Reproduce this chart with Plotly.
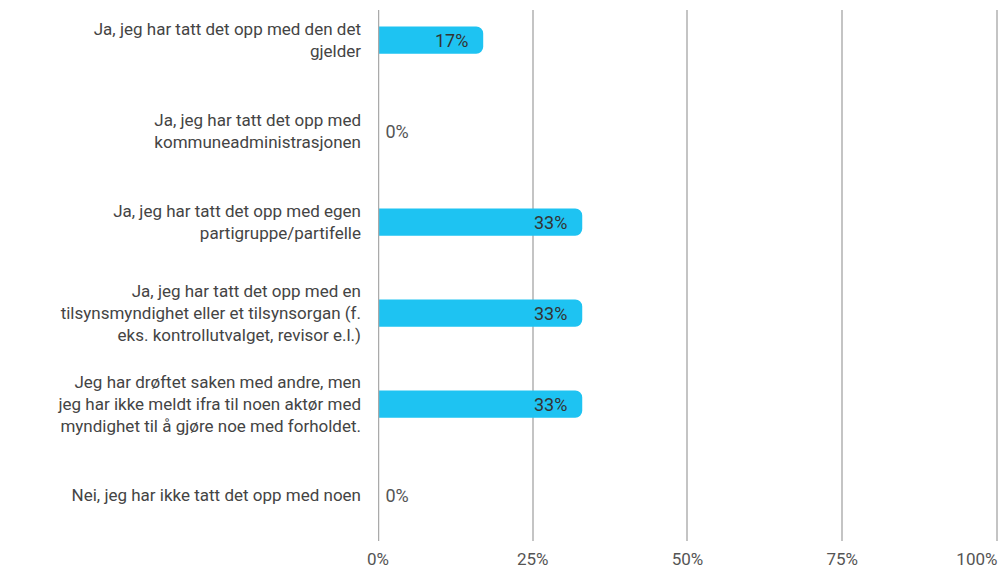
import plotly.graph_objects as go

categories = [
    "Ja, jeg har tatt det opp med den det<br>gjelder",
    "Ja, jeg har tatt det opp med<br>kommuneadministrasjonen",
    "Ja, jeg har tatt det opp med egen<br>partigruppe/partifelle",
    "Ja, jeg har tatt det opp med en<br>tilsynsmyndighet eller et tilsynsorgan (f.<br>eks. kontrollutvalget, revisor e.l.)",
    "Jeg har drøftet saken med andre, men<br>jeg har ikke meldt ifra til noen aktør med<br>myndighet til å gjøre noe med forholdet.",
    "Nei, jeg har ikke tatt det opp med noen",
]
values = [17, 0, 33, 33, 33, 0]
tick_vals = [0, 25, 50, 75, 100]
tick_text = ["0%", "25%", "50%", "75%", "100%"]

NB = "\u00a0"
texts = [(f"{v}%" + NB * 2) if v > 0 else (NB * 1 + f"{v}%") for v in values]
positions = ["inside" if v > 0 else "outside" for v in values]

fig = go.Figure(go.Bar(
    x=values,
    y=categories,
    orientation="h",
    marker=dict(color="#1EC3F2", line=dict(width=0), cornerradius=7),
    width=0.3,
    text=texts,
    textposition=positions,
    insidetextanchor="end",
    textangle=0,
    insidetextfont=dict(family="Roboto", size=18, color="#333333"),
    outsidetextfont=dict(family="Roboto", size=18, color="#555555"),
    cliponaxis=False,
))
# invisible companion trace so the overlay axis is rendered
fig.add_trace(go.Scatter(
    x=values, y=categories, xaxis="x2", mode="markers",
    marker=dict(opacity=0), hoverinfo="skip", showlegend=False,
))

fig.update_layout(
    width=1003, height=568,
    margin=dict(l=378, r=3, t=10, b=27, autoexpand=False),
    paper_bgcolor="white", plot_bgcolor="white",
    showlegend=False,
    font=dict(family="Roboto", size=17, color="#444444"),
)
x_range = [0, 100.5]
tickfont = dict(family="Roboto", size=17, color="#555555")
# main axis: gridlines for all ticks, labels for all but the last
fig.update_xaxes(
    range=x_range,
    tickvals=tick_vals, ticktext=tick_text[:-1] + [""],
    showgrid=True, gridcolor="#C4C4C4", gridwidth=1.5,
    zeroline=False, showline=False,
    ticks="", ticklabelstandoff=6,
    tickfont=tickfont,
    automargin=False,
    fixedrange=True,
)
# overlay axis carrying the last label, shifted so it stays within the page
fig.update_layout(xaxis2=dict(
    overlaying="x", anchor="y", side="bottom",
    range=x_range,
    tickvals=tick_vals[-1:], ticktext=tick_text[-1:],
    showgrid=False, zeroline=False, showline=False,
    ticks="", ticklabelstandoff=6, ticklabelshift=-20,
    ticklabeloverflow="allow",
    tickfont=tickfont,
    automargin=False, fixedrange=True,
))
fig.update_yaxes(
    type="category",
    categoryorder="array", categoryarray=categories,
    range=[5.505, -0.33],
    showgrid=False, zeroline=False,
    showline=False,
    ticks="", ticklabelstandoff=16,
    tickfont=dict(family="Roboto", size=17, color="#444444"),
    automargin=False,
)
# zero axis line
fig.add_shape(type="line", xref="x", yref="paper", x0=0, x1=0, y0=0, y1=1,
              line=dict(color="#AAAAAA", width=2.5), layer="above")

fig.write_html(
    "out.html",
    config={"displayModeBar": False},
    post_script="document.body.style.margin='0';document.body.style.overflow='hidden';",
)
